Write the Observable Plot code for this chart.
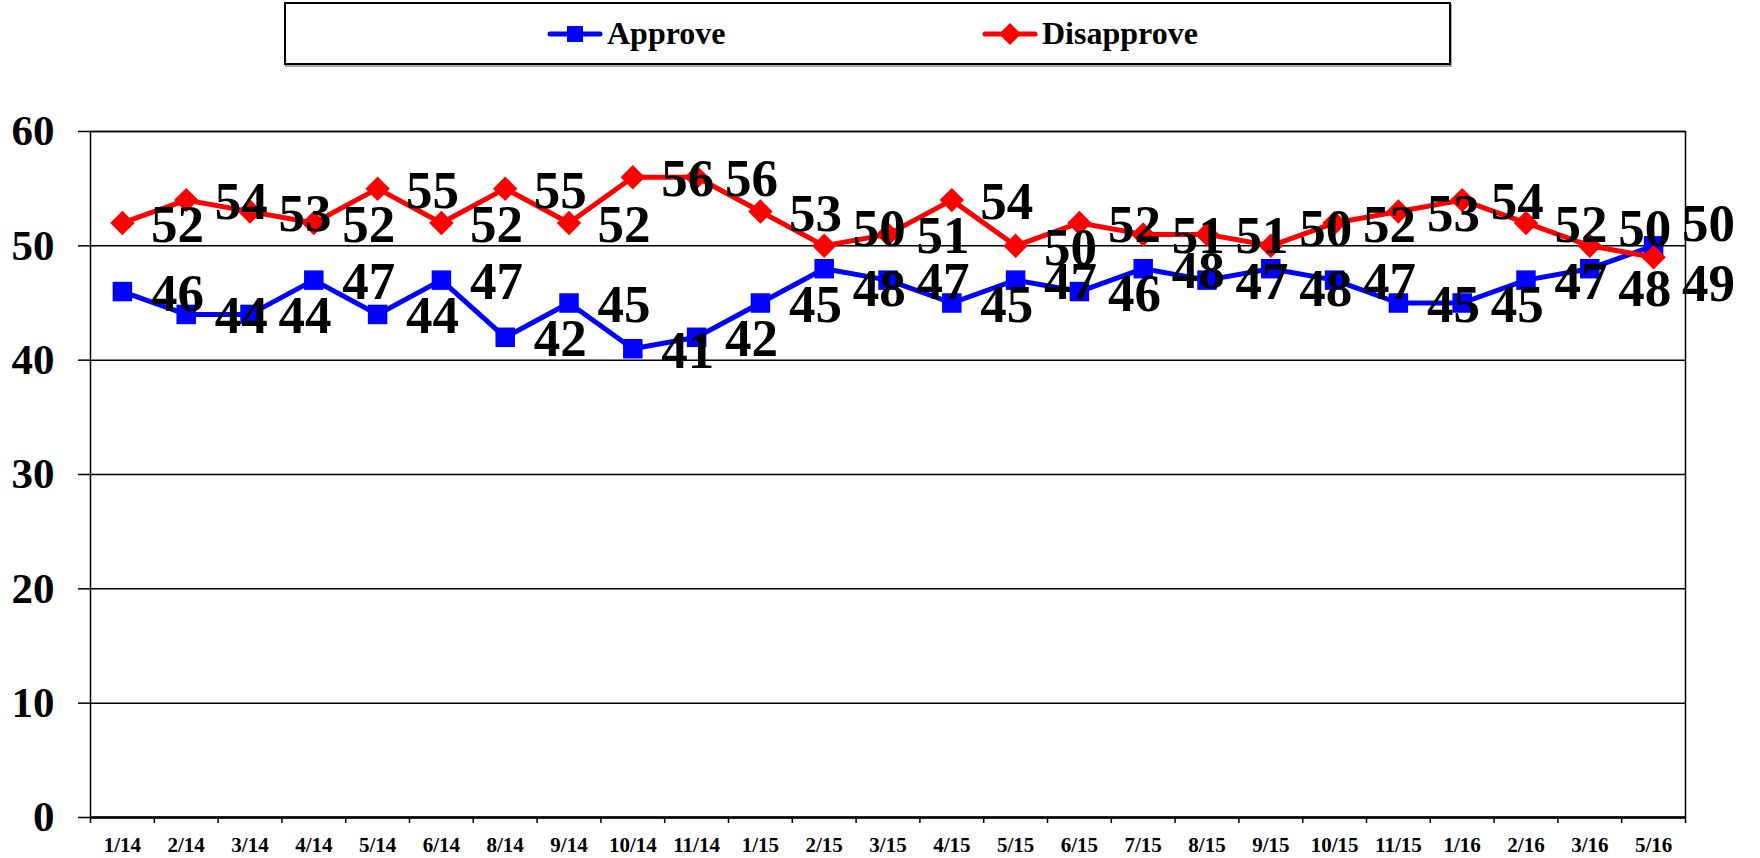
<!DOCTYPE html>
<html><head><meta charset="utf-8">
<script src="https://cdn.jsdelivr.net/npm/d3@7"></script>
<script src="https://cdn.jsdelivr.net/npm/@observablehq/plot@0.6"></script>
<style>
body{margin:0;background:#fff;width:1760px;height:858px;overflow:hidden;font-family:"Liberation Serif","Times New Roman",serif;}
#legend{position:relative;height:70px;width:1760px;}
#box{position:absolute;left:284px;top:2px;width:1163px;height:59px;border:2px solid #000;box-shadow:1px 2px 0 #aaa;background:#fff;}
.item{position:absolute;top:0;height:59px;display:flex;align-items:center;font-weight:bold;font-size:32px;color:#000;}
.item svg{margin-right:4px;}
</style></head><body>
<div id="legend"><div id="box">
  <div class="item" style="left:261px">
    <svg width="56" height="24"><line x1="3" y1="12" x2="53" y2="12" stroke="#0000ff" stroke-width="5" stroke-linecap="round"/><rect x="20" y="4" width="16" height="16" fill="#0000ff"/></svg>Approve</div>
  <div class="item" style="left:696px">
    <svg width="56" height="24"><line x1="3" y1="12" x2="53" y2="12" stroke="#ff0000" stroke-width="5" stroke-linecap="round"/><path d="M28,1L39,12L28,23L17,12Z" fill="#ff0000"/></svg>Disapprove</div>
</div></div>
<div id="chart"></div>
<script>
const categories = ["1/14","2/14","3/14","4/14","5/14","6/14","8/14","9/14","10/14","11/14","1/15","2/15","3/15","4/15","5/15","6/15","7/15","8/15","9/15","10/15","11/15","1/16","2/16","3/16","5/16"];
const approve    = [46,44,44,47,44,47,42,45,41,42,45,48,47,45,47,46,48,47,48,47,45,45,47,48,50];
const disapprove = [52,54,53,52,55,52,55,52,56,56,53,50,51,54,50,52,51,51,50,52,53,54,52,50,49];
const yTicks = [0,10,20,30,40,50,60];

const n = categories.length;
const idx = d3.range(n);
const A = idx.map(i => ({i, v: approve[i]}));
const D = idx.map(i => ({i, v: disapprove[i]}));
const edges = d3.range(n + 1).map(i => i - 0.5);

// label placement: right of each point; when the two series are within 2 points,
// the labels are pushed apart so they do not collide (as in the original)
const minSep = 5.25;
const labA = idx.map(i => {
  const g = disapprove[i] - approve[i];
  let y = approve[i];
  if (Math.abs(g) <= 2) y += (g >= 0 ? -1 : 1) * (minSep - Math.abs(g)) / 2;
  return {i, y, t: String(approve[i])};
});
const labD = idx.map(i => {
  const g = disapprove[i] - approve[i];
  let y = disapprove[i];
  if (Math.abs(g) <= 2) y += (g >= 0 ? 1 : -1) * (minSep - Math.abs(g)) / 2;
  return {i, y, t: String(disapprove[i])};
});
const labelFont = {fontSize: 53, fontWeight: "bold", fill: "#000", dx: 55, dy: 2};

const chart = Plot.plot({
  width: 1760, height: 788,
  marginTop: 61, marginBottom: 41, marginLeft: 90, marginRight: 75,
  style: {fontFamily: "Liberation Serif, Times New Roman, serif", fontWeight: "bold", color: "#000", background: "#fff", overflow: "visible"},
  x: {domain: [-0.5, n - 0.5], label: null},
  y: {domain: [0, 60], label: null},
  marks: [
    Plot.ruleY(yTicks, {stroke: "#000", strokeWidth: 1.5}),
    Plot.ruleY([0], {stroke: "#000", strokeWidth: 2.5}),
    Plot.frame({stroke: "#000", strokeWidth: 1.5}),
    Plot.axisY(yTicks, {tickSize: 12, tickPadding: 24, fontSize: 43, fontWeight: "bold", strokeWidth: 1.5, label: null}),
    Plot.axisX(idx, {tickSize: 0, tickPadding: 20, tickFormat: i => categories[i], fontSize: 21, fontWeight: "bold", label: null}),
    Plot.axisX(edges, {tickSize: 6, tickFormat: () => "", strokeWidth: 1.5, label: null}),
    Plot.line(A, {x: "i", y: "v", stroke: "#0000ff", strokeWidth: 5}),
    Plot.dot(A, {x: "i", y: "v", symbol: "square", r: 11, fill: "#0000ff"}),
    Plot.line(D, {x: "i", y: "v", stroke: "#ff0000", strokeWidth: 5}),
    Plot.dot(D, {x: "i", y: "v", symbol: "diamond2", r: 11, fill: "#ff0000"}),
    Plot.text(labA, {x: "i", y: "y", text: "t", ...labelFont}),
    Plot.text(labD, {x: "i", y: "y", text: "t", ...labelFont})
  ]
});
document.getElementById("chart").appendChild(chart);
</script>
</body></html>
